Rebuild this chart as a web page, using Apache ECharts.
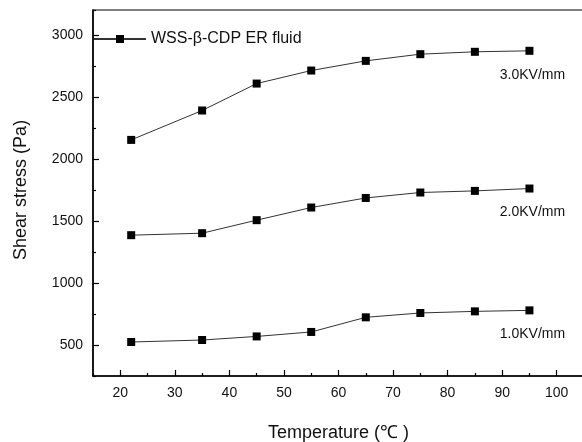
<!DOCTYPE html>
<html>
<head>
<meta charset="utf-8">
<script src="https://cdn.jsdelivr.net/npm/echarts@6/dist/echarts.min.js"></script>
<style>
  html, body { margin: 0; padding: 0; background: #fff; }
  #chart { width: 582px; height: 442px; }
</style>
</head>
<body>
<div id="chart"></div>
<script>
// Temperature points (°C)
const temperature = [22, 35, 45, 55, 65, 75, 85, 95];

// Shear stress (Pa) at three field strengths
const stress30 = [2153, 2390, 2607, 2712, 2790, 2844, 2863, 2871];
const stress20 = [1385, 1401, 1506, 1608, 1685, 1729, 1742, 1761];
const stress10 = [524, 540, 569, 605, 723, 758, 771, 779];

// Field-strength labels shown beside each curve
const fieldLabels = ['3.0KV/mm', '2.0KV/mm', '1.0KV/mm'];
const legendName = 'WSS-\u03b2-CDP ER fluid';

// Axis ranges: full frame, and the span carrying labelled (major) ticks
const xRange = [15, 105];
const yRange = [250, 3200];
const xMajorRange = [20, 100];
const yMajorRange = [500, 3000];
const xStep = 10;
const yStep = 500;

const FONT = '"Liberation Sans", Arial, sans-serif';

// Plot frame in pixels
const frame = { left: 93, top: 10, width: 491, height: 366 };

// Sub-frame whose edges sit exactly on the first/last major tick values
const kX = frame.width / (xRange[1] - xRange[0]);
const subX = {
  start: frame.left + (xMajorRange[0] - xRange[0]) * kX,
  size: (xMajorRange[1] - xMajorRange[0]) * kX
};
// y grows upward, so measure from the top with reversed values
const kY = frame.height / (yRange[1] - yRange[0]);
const subY = {
  start: frame.top + (yRange[1] - yMajorRange[1]) * kY,
  size: (yMajorRange[1] - yMajorRange[0]) * kY
};
const xOffset = frame.top + frame.height - (subY.start + subY.size);
const yOffset = subX.start - frame.left;

function pairs(ys) {
  return ys.map((y, i) => [temperature[i], y]);
}

function curve(name, ys, label) {
  const data = pairs(ys);
  const last = data.length - 1;
  return {
    name: name,
    type: 'line',
    xAxisIndex: 0,
    yAxisIndex: 0,
    data: data.map((d, i) => i === last ? {
      value: d,
      label: {
        show: true, position: 'bottom', distance: 13, offset: [3, 0],
        formatter: label, color: '#111', fontSize: 14, fontFamily: FONT
      }
    } : d),
    symbol: 'rect',
    symbolSize: 8,
    itemStyle: { color: '#000' },
    lineStyle: { color: '#333', width: 1 },
    emphasis: { disabled: true },
    animation: false
  };
}

const tickStyle = { color: '#000', width: 1.2 };

const chart = echarts.init(document.getElementById('chart'));
chart.setOption({
  backgroundColor: '#fff',
  animation: false,
  grid: [{
    left: frame.left, top: frame.top, width: frame.width, height: frame.height,
    outerBoundsMode: 'none', containLabel: false,
    show: true, borderColor: '#000', borderWidth: 1.2, backgroundColor: 'transparent'
  }, {
    left: subX.start, top: subY.start, width: subX.size, height: subY.size,
    outerBoundsMode: 'none', containLabel: false,
    show: false
  }],
  legend: {
    data: [legendName],
    left: 88, top: 26,
    itemWidth: 52, itemHeight: 10,
    textStyle: { fontSize: 16, color: '#111', fontFamily: FONT }
  },
  xAxis: [{
    // frame axis: line plus the short ticks between labels
    gridIndex: 0, type: 'value', min: xRange[0], max: xRange[1], interval: xStep,
    axisLine: { lineStyle: { color: '#000', width: 1.5 } },
    axisTick: { inside: true, length: 3, lineStyle: tickStyle },
    axisLabel: { show: false },
    splitLine: { show: false }
  }, {
    // labelled axis: long ticks and numbers
    gridIndex: 1, type: 'value', min: xMajorRange[0], max: xMajorRange[1], interval: xStep,
    position: 'bottom', offset: xOffset,
    axisLine: { show: false },
    axisTick: { show: true, inside: true, length: 6, lineStyle: tickStyle },
    axisLabel: { margin: 10, fontSize: 14, color: '#111', fontFamily: FONT },
    splitLine: { show: false },
    name: 'Temperature (\u2103 )',
    nameLocation: 'middle', nameGap: 48,
    nameTextStyle: { fontSize: 18, color: '#111', fontFamily: FONT }
  }],
  yAxis: [{
    gridIndex: 0, type: 'value', min: yRange[0], max: yRange[1], interval: yStep,
    axisLine: { show: true, lineStyle: { color: '#000', width: 1.5 } },
    axisTick: { show: true, inside: true, length: 3, lineStyle: tickStyle },
    axisLabel: { show: false },
    splitLine: { show: false }
  }, {
    gridIndex: 1, type: 'value', min: yMajorRange[0], max: yMajorRange[1], interval: yStep,
    position: 'left', offset: yOffset,
    axisLine: { show: false },
    axisTick: { show: true, inside: true, length: 6, lineStyle: tickStyle },
    axisLabel: { margin: 10, fontSize: 14, color: '#111', fontFamily: FONT, formatter: v => String(v) },
    splitLine: { show: false },
    name: 'Shear stress (Pa)',
    nameLocation: 'middle', nameGap: 63,
    nameTextStyle: { fontSize: 18, color: '#111', fontFamily: FONT }
  }],
  series: [
    curve(legendName, stress30, fieldLabels[0]),
    curve(legendName, stress20, fieldLabels[1]),
    curve(legendName, stress10, fieldLabels[2])
  ]
});
</script>
</body>
</html>
